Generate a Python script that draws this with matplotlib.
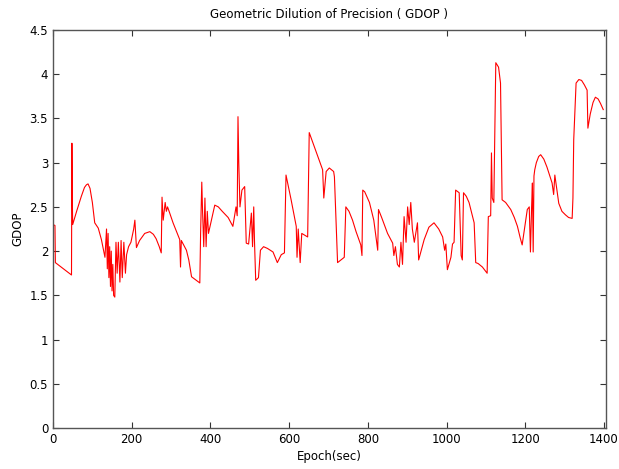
import matplotlib
matplotlib.use("Agg")
import matplotlib.pyplot as plt

# GDOP trace
epoch = [0, 5, 6, 47, 48, 49, 50, 60, 72, 80, 85, 89, 94, 100, 106, 115, 123, 132,
         136, 138, 140, 142, 144, 146, 148, 150, 152, 154, 157, 160, 163, 166, 170, 173,
         176, 180, 184, 187, 192, 198, 205, 208, 212, 220, 233, 246, 255, 262, 270, 275,
         277, 280, 285, 288, 291, 295, 305, 322, 324, 326, 339, 345, 352, 373, 375, 378,
         380, 383, 386, 389, 392, 395, 411, 420, 430, 445, 457, 465, 468, 470, 472, 475,
         480, 487, 491, 497, 504, 507, 510, 512, 515, 522, 527, 535, 545, 559, 570, 580,
         588, 592, 605, 618, 620, 623, 628, 632, 647, 651, 685, 688, 694, 702, 713, 715,
         719, 723, 740, 742, 744, 752, 761, 770, 782, 785, 787, 792, 804, 815, 825, 827,
         835, 850, 863, 866, 870, 875, 880, 884, 888, 892, 897, 901, 905, 909, 913, 918,
         926, 929, 943, 955, 968, 980, 990, 995, 998, 1002, 1011, 1015, 1019, 1023, 1032,
         1037, 1040, 1043, 1050, 1057, 1070, 1074, 1080, 1091, 1103, 1106, 1112, 1114,
         1116, 1120, 1125, 1132, 1137, 1141, 1150, 1163, 1172, 1180, 1187, 1192, 1205,
         1210, 1213, 1216, 1218, 1220, 1222, 1224, 1228, 1234, 1239, 1247, 1255, 1268,
         1272, 1275, 1280, 1285, 1293, 1302, 1310, 1319, 1321, 1323, 1329, 1336, 1343,
         1350, 1357, 1359, 1365, 1372, 1378, 1385, 1391, 1398]
gdop = [2.30, 2.29, 1.87, 1.73, 3.22, 2.62, 2.30, 2.45, 2.62, 2.72, 2.75, 2.76, 2.71, 2.55,
        2.32, 2.26, 2.13, 1.93, 2.25, 1.80, 2.20, 1.70, 2.05, 1.60, 2.00, 1.55, 1.85, 1.50,
        1.48, 2.10, 1.75, 2.10, 1.65, 2.12, 1.70, 2.10, 1.75, 1.96, 2.05, 2.10, 2.25, 2.35,
        2.04, 2.12, 2.20, 2.22, 2.19, 2.14, 2.05, 1.98, 2.61, 2.35, 2.55, 2.45, 2.50, 2.45,
        2.32, 2.13, 1.82, 2.12, 2.01, 1.90, 1.71, 1.64, 2.20, 2.78, 2.45, 2.05, 2.60, 2.05,
        2.45, 2.20, 2.52, 2.50, 2.45, 2.38, 2.28, 2.50, 2.40, 3.52, 3.00, 2.50, 2.69, 2.73,
        2.09, 2.08, 2.43, 2.05, 2.50, 2.10, 1.67, 1.70, 2.01, 2.05, 2.03, 1.99, 1.87, 1.96,
        1.98, 2.86, 2.58, 2.28, 1.93, 2.25, 1.87, 2.20, 2.16, 3.34, 2.92, 2.60, 2.90, 2.94,
        2.90, 2.84, 2.35, 1.87, 1.93, 2.20, 2.50, 2.45, 2.35, 2.22, 2.07, 1.95, 2.69, 2.67,
        2.55, 2.35, 2.01, 2.47, 2.38, 2.20, 2.09, 1.95, 2.05, 1.85, 1.82, 2.10, 1.85, 2.39,
        2.10, 2.50, 2.30, 2.55, 2.25, 2.10, 2.32, 1.90, 2.13, 2.27, 2.32, 2.25, 2.16, 2.01,
        2.08, 1.79, 1.93, 2.08, 2.10, 2.69, 2.66, 1.95, 1.90, 2.66, 2.62, 2.55, 2.32, 1.87,
        1.86, 1.82, 1.75, 2.39, 2.40, 3.11, 2.60, 2.55, 4.13, 4.08, 3.90, 2.58, 2.55, 2.47,
        2.38, 2.28, 2.15, 2.07, 2.47, 2.50, 1.99, 2.50, 2.77, 1.99, 2.85, 2.92, 3.00, 3.07,
        3.09, 3.04, 2.95, 2.77, 2.64, 2.86, 2.70, 2.54, 2.45, 2.41, 2.38, 2.37, 2.60, 3.26,
        3.90, 3.94, 3.93, 3.88, 3.82, 3.39, 3.55, 3.68, 3.74, 3.72, 3.67, 3.60]

x_ticks = [0, 200, 400, 600, 800, 1000, 1200, 1400]
y_ticks = [0, 0.5, 1, 1.5, 2, 2.5, 3, 3.5, 4, 4.5]
y_labels = ["0", "0.5", "1", "1.5", "2", "2.5", "3", "3.5", "4", "4.5"]

fig = plt.figure(figsize=(6.19, 4.69), dpi=100)
ax = fig.add_axes([53 / 619, 41 / 469, 553 / 619, 398 / 469])

ax.plot(epoch, gdop, color="red", linewidth=0.8)

ax.set_xlim(0, 1405)
ax.set_ylim(0, 4.5)
ax.set_xticks(x_ticks)
ax.set_yticks(y_ticks)
ax.set_yticklabels(y_labels)

ax.tick_params(direction="in", top=True, right=True, length=4, width=0.8,
               colors="#333333", labelsize=8.5, labelcolor="black")
for s in ax.spines.values():
    s.set_color("#555555")
    s.set_linewidth(1.0)

ax.set_title("Geometric Dilution of Precision ( GDOP )", fontsize=8.5, pad=9)
ax.set_xlabel("Epoch(sec)", fontsize=8.5, labelpad=3)
ax.set_ylabel("GDOP", fontsize=8.5, labelpad=4)

fig.savefig("out.png", dpi=100)
